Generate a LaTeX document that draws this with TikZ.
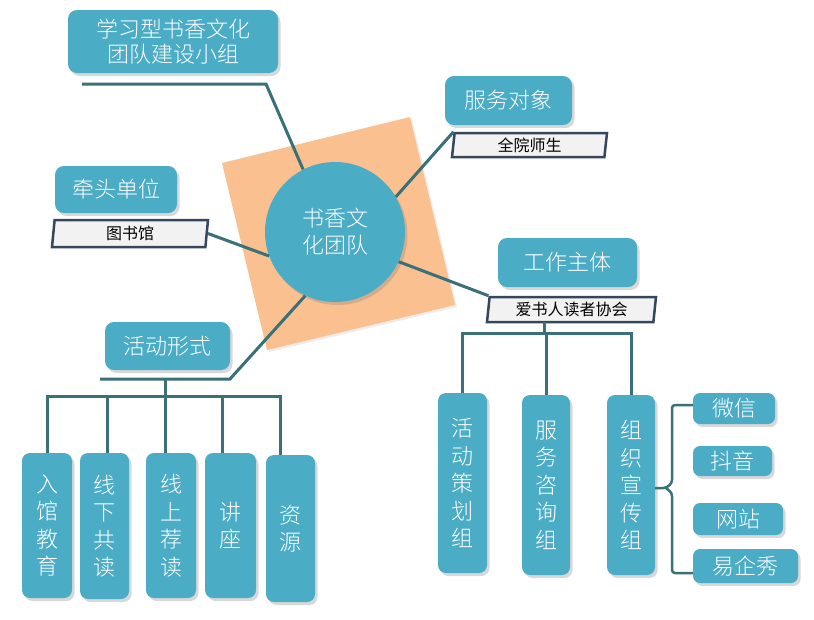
\documentclass[tikz,border=0pt]{standalone}
\usepackage{fontspec}
\usepackage{tikz}
\usetikzlibrary{shapes.geometric,shadows}
\newfontfamily\cjk{Noto Sans CJK SC}
\newfontfamily\cjklight{Noto Sans CJK SC}[UprightFont=* Light]
\definecolor{boxteal}{RGB}{75,172,198}
\definecolor{paper}{RGB}{250,192,143}
\definecolor{linkteal}{RGB}{58,112,120}
\definecolor{tagline}{RGB}{55,70,95}
\definecolor{tagfill}{RGB}{242,242,242}

\begin{document}
\begin{tikzpicture}[x=1pt,y=-1pt,
  dims/.style 2 args={minimum width=#1pt,minimum height=#2pt},
  box/.style={rectangle,rounded corners=9pt,fill=boxteal,text=white,
    font=\cjklight\fontsize{22}{25}\selectfont,align=center,inner sep=0pt,
    drop shadow={shadow xshift=2.5pt,shadow yshift=-3pt,opacity=0.3}},
  vbox/.style={box,rounded corners=8pt,font=\cjklight\fontsize{22}{27.5}\selectfont},
  tag/.style={trapezium,trapezium left angle=80,trapezium right angle=100,
    trapezium stretches body,draw=tagline,line width=2.5pt,fill=tagfill,
    font=\cjk\fontsize{16}{18}\selectfont,inner sep=0pt},
  link/.style={draw=linkteal,line width=3pt}
]
\fill[white] (0,0) rectangle (814,619);

\fill[paper,drop shadow={shadow xshift=2pt,shadow yshift=-2pt,opacity=0.15}]
  (222,163) -- (410,117) -- (455,305) -- (267,350) -- cycle;

\node[circle,fill=boxteal,minimum size=140pt,inner sep=0pt,text=white,align=center,
  font=\cjklight\fontsize{22}{27}\selectfont,
  drop shadow={shadow xshift=2.5pt,shadow yshift=-3pt,opacity=0.3}] (core) at (335,232) {书香文\\化团队};

\node[box,dims={210}{63}] (team) at (173,41.5) {学习型书香文化\\团队建设小组};
\node[box,dims={127}{49}] (client) at (508.5,100.5) {服务对象};
\node[tag,dims={155}{24}] (clientTag) at (529.5,145) {全院师生};
\node[box,dims={122}{47}] (lead) at (116,189.5) {牵头单位};
\node[tag,dims={156}{27}] (leadTag) at (130,233.5) {图书馆};
\node[box,dims={139}{49}] (body) at (567.5,262.5) {工作主体};
\node[tag,dims={169}{25}] (bodyTag) at (571.5,309.5) {爱书人读者协会};
\node[box,dims={125}{48}] (form) at (167.5,346) {活动形式};

\node[vbox,dims={50}{145}] (f1) at (47,525.5) {入\\馆\\教\\育};
\node[vbox,dims={49}{146}] (f2) at (104.5,526) {线\\下\\共\\读};
\node[vbox,dims={50}{145}] (f3) at (171,525.5) {线\\上\\荐\\读};
\node[vbox,dims={51}{145}] (f4) at (230.5,525.5) {讲\\座};
\node[vbox,dims={49}{147}] (f5) at (290.5,528.5) {资\\源};

\node[vbox,dims={49}{180}] (g1) at (462.5,483) {活\\动\\策\\划\\组};
\node[vbox,dims={48}{180}] (g2) at (546,485) {服\\务\\咨\\询\\组};
\node[vbox,dims={48}{180}] (g3) at (631,485) {组\\织\\宣\\传\\组};

\node[box,dims={82}{31},rounded corners=7pt] (m1) at (734,408.5) {微信};
\node[box,dims={79}{30},rounded corners=7pt] (m2) at (732.5,461) {抖音};
\node[box,dims={90}{32},rounded corners=7pt] (m3) at (738,519) {网站};
\node[box,dims={105}{34},rounded corners=7pt] (m4) at (745.5,566) {易企秀};

\coordinate (teamL) at (82,84);
\coordinate (teamK) at (266,84);
\draw[link] (teamL) -- (teamK) -- (core.117);
\draw[link] (core.30) -- (clientTag.top left corner);
\draw[link] (leadTag.east) -- (core.200);
\draw[link] (core.-25) -- (bodyTag.top left corner);

\coordinate (formK) at (230,379);
\coordinate (formL) at (100,379);
\coordinate (formJ) at (165,379);
\coordinate (formBus) at (165,396);
\draw[link] (core.245) -- (formK) -- (formL);
\draw[link] (formJ) -- (formBus);
\foreach \n/\dx in {f1/0,f2/2.5,f3/-6,f4/-8.5,f5/-10.5}
  \draw[link] (formBus) -| ([xshift=\dx pt]\n.north);

\coordinate (bodyJ) at (544,322);
\coordinate (bodyBus) at (544,333);
\draw[link] (bodyJ) -- (bodyBus);
\foreach \n in {g1,g2,g3}
  \draw[link] (bodyBus) -| (\n.north);

\coordinate (braceTip) at (655,488);
\draw[link,line width=2.5pt,rounded corners=3pt] (m1.west|-0,405) -- (672,405) -- (672,483) -- (666,488) -- (braceTip);
\draw[link,line width=2.5pt,rounded corners=3pt] (666,488) -- (672,493) -- (672,573) -- (m4.west|-0,573);
\end{tikzpicture}
\end{document}
